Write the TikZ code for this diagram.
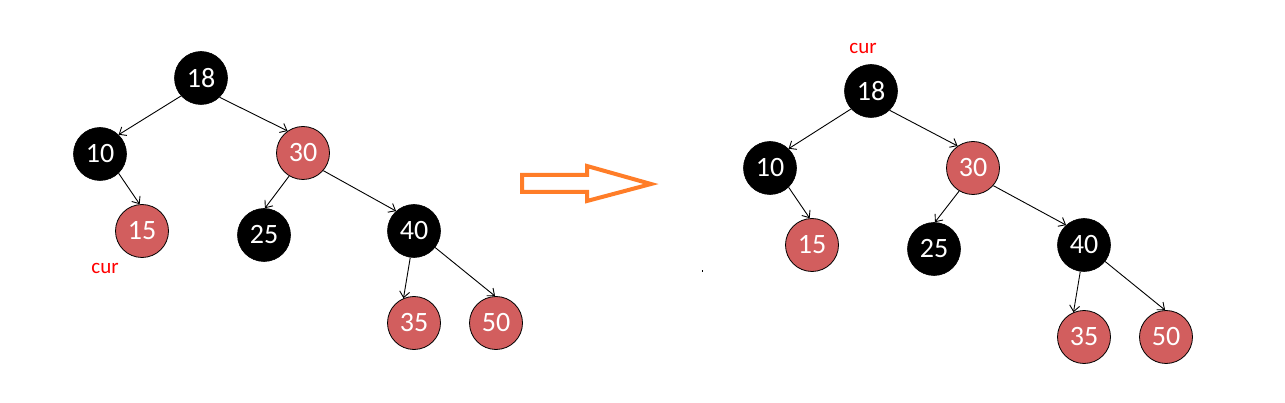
\documentclass[tikz,border=0pt]{standalone}
\usepackage{fontspec}
\usetikzlibrary{arrows.meta}
\setmainfont{Carlito}
\begin{document}
\begin{tikzpicture}[x=1pt,y=-1pt,
  blk/.style={circle,fill=black,draw=black,line width=0.6pt,minimum size=53pt,inner sep=0pt,text=white,font=\fontsize{28}{28}\selectfont},
  rd/.style={circle,fill=nodered,draw=black,line width=0.8pt,minimum size=53pt,inner sep=0pt,text=white,font=\fontsize{28}{28}\selectfont},
  edge/.style={-{Straight Barb[length=6pt,width=10pt]},line width=0.9pt},
  lbl/.style={text=red,font=\fontsize{21}{21}\selectfont,inner sep=0pt}]
\definecolor{nodered}{RGB}{210,94,94}
\definecolor{arroworange}{RGB}{255,125,40}
\useasboundingbox (0,0) rectangle (1285,403);
% left tree
\node[blk] (a18) at (201,78) {18};
\node[blk] (a10) at (100,154) {10};
\node[rd]  (a30) at (303,153) {30};
\node[rd]  (a15) at (142,231) {15};
\node[blk] (a25) at (264,235) {25};
\node[blk] (a40) at (414,231) {40};
\node[rd]  (a35) at (414,323) {35};
\node[rd]  (a50) at (496,323) {50};
\node[lbl] (acur) at (105,268) {cur};
\draw[edge] (a18.222) -- (a10.46);
\draw[edge] (a18.314) -- (a30.125);
\draw[edge] (a10.314) -- (a15.95);
\draw[edge] (a30.239) -- (a25.88);
\draw[edge] (a30.319) -- (a40.132);
\draw[edge] (a40.262) -- (a35.113);
\draw[edge] (a40.322) -- (a50.92);
% arrow
\draw[arroworange,line width=4pt,line join=miter]
  (522,175) -- (587,175) -- (587,166) -- (651,184) -- (587,201) -- (587,192) -- (522,192) -- cycle;
\fill[black] (701.5,270.5) rectangle (703,272);
% right tree
\node[blk] (b18) at (871,91) {18};
\node[blk] (b10) at (770,168) {10};
\node[rd]  (b30) at (973,168) {30};
\node[rd]  (b15) at (812,245) {15};
\node[blk] (b25) at (934,249) {25};
\node[blk] (b40) at (1084,245) {40};
\node[rd]  (b35) at (1084,337) {35};
\node[rd]  (b50) at (1166,337) {50};
\node[lbl] (bcur) at (863,48) {cur};
\draw[edge] (b18.222) -- (b10.46);
\draw[edge] (b18.314) -- (b30.125);
\draw[edge] (b10.314) -- (b15.95);
\draw[edge] (b30.239) -- (b25.88);
\draw[edge] (b30.319) -- (b40.132);
\draw[edge] (b40.262) -- (b35.113);
\draw[edge] (b40.322) -- (b50.92);
\end{tikzpicture}
\end{document}
